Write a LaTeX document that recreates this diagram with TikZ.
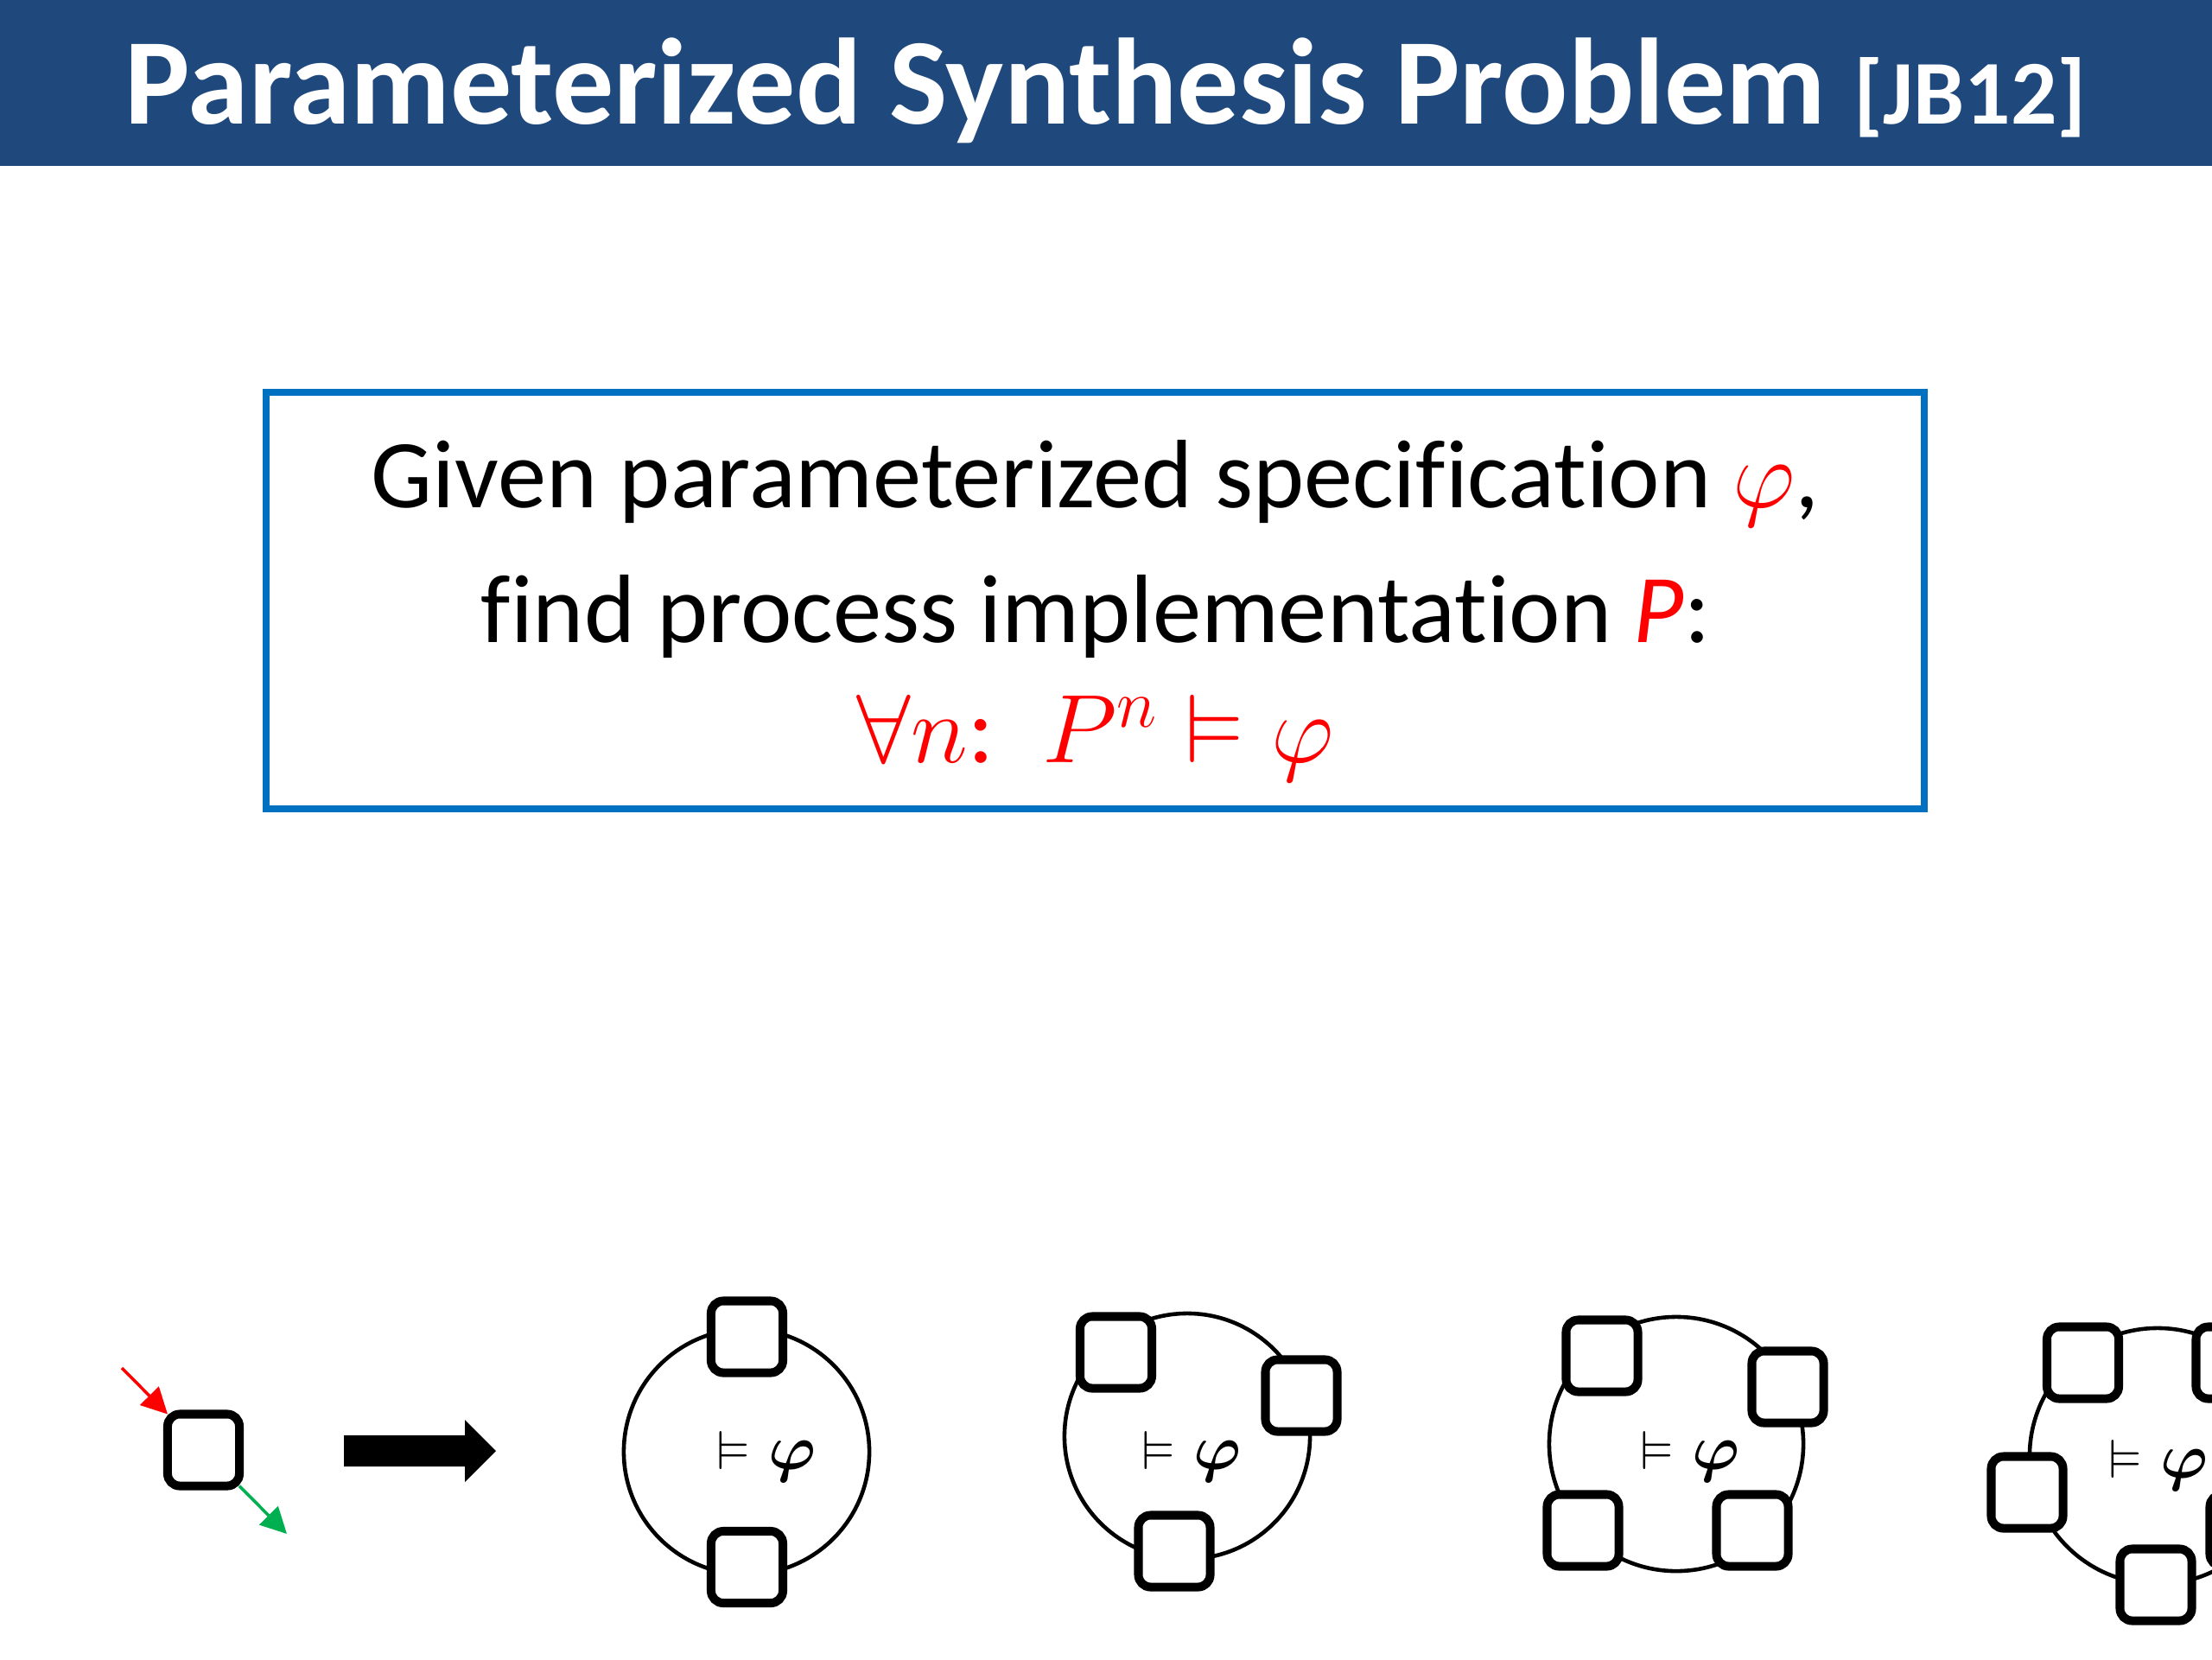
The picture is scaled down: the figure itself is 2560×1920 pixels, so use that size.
\RequirePackage{fix-cm}
\documentclass[tikz,border=0pt]{standalone}
\usepackage{amsmath,amssymb}
\usepackage{fontspec}
\setmainfont[Ligatures=NoCommon]{Carlito}
\usetikzlibrary{arrows.meta}
\definecolor{titlebar}{RGB}{31,73,125}
\definecolor{boxblue}{RGB}{0,112,192}
\definecolor{pgreen}{RGB}{0,176,80}
\newcommand{\satphi}{$\vDash$\hspace{6pt}{\fontsize{21}{24}\selectfont$\boldsymbol{\varphi}$}}
\tikzset{
  proc/.style={draw=black, fill=white, line width=2.85pt, rounded corners=4pt,
    minimum size=0.83cm, inner sep=0pt, outer sep=0pt},
  ring/.style={draw=black, circle, line width=1.3pt, inner sep=0pt, outer sep=0pt},
  sat/.style={font=\fontsize{18}{20}\selectfont, inner sep=0pt, anchor=base west},
  thinarrow/.style={line width=1pt, -{Triangle[length=0.3cm,width=0.3cm]}},
  specline/.style={anchor=base, inner sep=0pt, font=\fontsize{32}{38}\selectfont},
}
\begin{document}
\begin{tikzpicture}[x=0.01cm,y=-0.01cm]
\useasboundingbox (0,0) rectangle (2560,1920);
\clip (0,0) rectangle (2560,1920);
% title bar
\fill[titlebar] (0,0) rectangle (2560,192);
\node[anchor=base, text=white, inner sep=0pt] (title) at (1280,143)
  {\bfseries\fontsize{40.4}{48}\selectfont Parameterized Synthesis Problem \fontsize{30}{34}\selectfont [JB12]};
% specification box
\node[draw=boxblue, line width=2.3pt, minimum width=19.17cm, minimum height=4.82cm,
  inner sep=0pt] (spec) at (1267.5,695) {};
\node[specline] (l1) at (1268,587) {Given parameterized specification \textcolor{red}{$\varphi$},};
\node[specline] (l2) at (1268,743) {find process implementation \textcolor{red}{\textit{P}}:};
\node[specline, text=red] (l3) at (1268,882) {$\forall n$:\enspace$P^{n}\vDash\varphi$};
% single process
\node[proc] (p0) at (235.5,1678) {};
\coordinate (rin) at (141,1583);
\coordinate (gout) at (332,1775);
\draw[thinarrow, red] (rin) -- (p0.north west);
\draw[thinarrow, pgreen] (p0.south east) -- (gout);
% big arrow
\fill[black] (398,1661) -- (538,1661) -- (538,1643) -- (574,1679) -- (538,1715)
  -- (538,1697) -- (398,1697) -- cycle;
% ring 1
\node[ring, minimum size=2.84cm] (c1) at (864,1680) {};
\node[proc] (c1a) at (864.5,1547) {};
\node[proc] (c1b) at (864.5,1813.5) {};
\node[sat] (t1) at (829,1700) {\satphi};
% ring 2
\node[ring, minimum size=2.84cm] (c2) at (1374,1662) {};
\node[proc] (c2a) at (1291.5,1565) {};
\node[proc] (c2b) at (1506,1615) {};
\node[proc] (c2c) at (1359,1795) {};
\node[sat] (t2) at (1321,1700) {\satphi};
% ring 3
\node[ring, minimum size=2.94cm] (c3) at (1940,1671) {};
\node[proc] (c3a) at (1854,1569) {};
\node[proc] (c3b) at (2069,1605) {};
\node[proc] (c3c) at (1832,1771) {};
\node[proc] (c3d) at (2028,1771) {};
\node[sat] (t3) at (1898,1700) {\satphi};
% ring 4
\node[ring, minimum size=2.96cm] (c4) at (2497,1685) {};
\node[proc] (c4a) at (2410.5,1577) {};
\node[proc] (c4b) at (2583,1577) {};
\node[proc] (c4c) at (2346,1727) {};
\node[proc] (c4d) at (2495,1834) {};
\node[proc] (c4e) at (2599,1771) {};
\node[sat] (t4) at (2440,1710) {\satphi};
\end{tikzpicture}
\end{document}
